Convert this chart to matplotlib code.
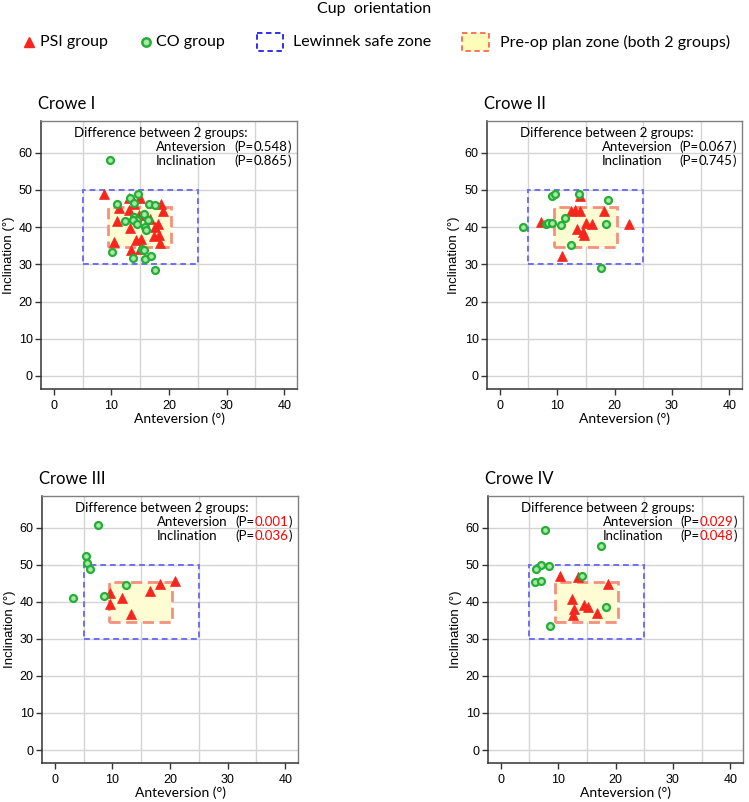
import numpy as np
import matplotlib.pyplot as plt
from matplotlib.patches import Rectangle

plt.rcParams['font.family'] = ['Lato', 'DejaVu Sans']

panel_titles = ["Crowe I", "Crowe II", "Crowe III", "Crowe IV"]

# PSI group (red triangles): anteversion / inclination
psi_ante_1 = [8.7, 13.0, 15.0, 14.0, 11.4, 13.0, 18.6, 18.9, 14.8, 11.0, 13.3,
              16.7, 18.1, 17.5, 18.3, 17.4, 18.4, 10.4, 14.3, 15.2, 13.4, 15.0]
psi_incl_1 = [48.8, 47.9, 47.7, 46.3, 45.2, 44.7, 46.1, 44.3, 43.2, 41.7, 39.8,
              42.3, 40.8, 39.9, 38.0, 37.5, 35.6, 36.0, 36.5, 36.9, 33.8, 34.0]
psi_ante_2 = [7.25, 14.0, 12.5, 13.2, 14.0, 18.2, 15.0, 16.0, 13.4, 14.5, 14.7, 22.6, 10.8]
psi_incl_2 = [41.3, 48.3, 44.2, 44.7, 44.2, 44.2, 41.2, 40.9, 39.4, 38.8, 38.0, 40.9, 32.2]
psi_ante_3 = [9.55, 9.55, 11.7, 13.3, 16.6, 18.2, 20.8]
psi_incl_3 = [42.4, 39.5, 40.9, 36.6, 42.8, 44.9, 45.7]
psi_ante_4 = [10.4, 13.5, 18.7, 12.5, 12.7, 12.6, 14.6, 15.2, 16.7]
psi_incl_4 = [46.8, 46.6, 44.7, 40.7, 37.9, 36.5, 39.2, 38.6, 36.9]

# CO group (green circles)
co_ante_1 = [14.7, 13.3, 14.0, 11.0, 16.6, 17.6, 15.7, 13.85, 14.4, 13.75, 12.3, 16.3,
             14.4, 15.9, 16.05, 10.1, 15.3, 15.6, 13.75, 15.9, 16.9, 17.5, 9.8]
co_incl_1 = [49.0, 47.7, 46.6, 46.3, 46.1, 45.9, 43.4, 42.7, 42.0, 41.9, 41.6, 41.9,
             40.8, 40.1, 39.2, 33.3, 34.0, 33.8, 31.6, 31.3, 32.2, 28.4, 58.0]
co_ante_2 = [4.1, 9.2, 9.7, 13.8, 18.9, 11.3, 8.1, 8.5, 9.1, 10.6, 18.5, 12.4, 17.6]
co_incl_2 = [39.9, 48.3, 49.0, 49.0, 47.4, 42.4, 40.9, 41.1, 41.2, 40.6, 40.7, 35.2, 29.1]
co_ante_3 = [7.5, 5.4, 5.6, 6.1, 3.2, 8.5, 12.3]
co_incl_3 = [60.7, 52.4, 50.4, 48.7, 41.1, 41.4, 44.6]
co_ante_4 = [7.7, 17.4, 7.0, 8.5, 6.1, 6.0, 7.1, 14.1, 18.4, 8.6]
co_incl_4 = [59.2, 55.0, 50.0, 49.7, 48.7, 45.4, 45.7, 46.9, 38.6, 33.4]

p_ante = ["0.548", "0.067", "0.001", "0.029"]
p_incl = ["0.865", "0.745", "0.036", "0.048"]

# zones: (ante min, ante max, incl min, incl max)
safe_zone = (5, 25, 30, 50)
plan_zone = (9.5, 20.4, 34.6, 45.3)

psi_ante = [psi_ante_1, psi_ante_2, psi_ante_3, psi_ante_4]
psi_incl = [psi_incl_1, psi_incl_2, psi_incl_3, psi_incl_4]
co_ante = [co_ante_1, co_ante_2, co_ante_3, co_ante_4]
co_incl = [co_incl_1, co_incl_2, co_incl_3, co_incl_4]

RED = '#f5261e'
GREEN_EDGE = '#26ad36'
GREEN_FACE = '#a6e8a6'
BLUE = '#7070f0'
PLAN_EDGE = '#f5907c'
PLAN_FILL = '#fdfcd2'
TICKFONT = 'Liberation Sans'

fig = plt.figure(figsize=(7.49, 8.02), dpi=100)

W, H = 749.0, 802.0
# axes boxes in pixels: left, top, right, bottom
boxes = [(41, 121, 297, 389), (487, 121, 742, 389),
         (42, 496, 298, 763), (488, 496, 743, 763)]

for k in range(4):
    l, t, r, b = boxes[k]
    ax = fig.add_axes([l / W, 1 - b / H, (r - l) / W, (b - t) / H])

    sz = safe_zone
    pz = plan_zone
    ax.add_patch(Rectangle((pz[0], pz[2]), pz[1] - pz[0], pz[3] - pz[2],
                           facecolor=PLAN_FILL, edgecolor='none', zorder=1))
    ax.add_patch(Rectangle((pz[0], pz[2]), pz[1] - pz[0], pz[3] - pz[2],
                           facecolor='none', edgecolor=PLAN_EDGE, lw=2.0,
                           linestyle=(0, (4, 2)), zorder=3))
    ax.add_patch(Rectangle((sz[0], sz[2]), sz[1] - sz[0], sz[3] - sz[2],
                           facecolor='none', edgecolor=BLUE, lw=1.4,
                           linestyle=(0, (3, 2)), zorder=3))

    ax.plot(psi_ante[k], psi_incl[k], '^', color=RED, ms=6.5, mec=RED, mew=0.5,
            linestyle='none', zorder=4)
    ax.plot(co_ante[k], co_incl[k], 'o', mfc=GREEN_FACE, mec=GREEN_EDGE, ms=5,
            mew=1.6, linestyle='none', zorder=5)

    ax.set_xlim(-2.2, 42.2)
    ax.set_ylim(-3.5, 68.5)
    ax.set_xticks([0, 10, 20, 30, 40])
    ax.set_xticks([5, 15, 25, 35], minor=True)
    ax.set_yticks([0, 10, 20, 30, 40, 50, 60])
    ax.grid(which='minor', axis='x', color='#d4d4d4', lw=1.0, zorder=0)
    ax.grid(which='major', axis='y', color='#d4d4d4', lw=1.0, zorder=0)
    ax.set_axisbelow(True)
    ax.tick_params(which='minor', length=0)
    ax.tick_params(which='major', length=4, width=1, color='#333333',
                   labelsize=9, pad=2)
    ax.tick_params(axis='x', pad=4)
    for lab in ax.get_xticklabels() + ax.get_yticklabels():
        lab.set_fontfamily(TICKFONT)
    for s in ['left', 'bottom']:
        ax.spines[s].set_color('#333333')
        ax.spines[s].set_linewidth(1.1)
    for s in ['top', 'right']:
        ax.spines[s].set_color('#808080')
        ax.spines[s].set_linewidth(1.0)

    ax.set_ylabel('Inclination (°)', fontsize=9.5, family=TICKFONT, labelpad=3)
    ax.set_xlabel('Anteversion (°)', fontsize=10)
    ax.xaxis.set_label_coords(0.54, -0.11)
    ax.xaxis.label.set_va('center')

    ax.text(-0.01, 1.065, panel_titles[k], transform=ax.transAxes,
            fontsize=12, ha='left', va='center')

    ax.text(0.13, 0.955, 'Difference between 2 groups:', transform=ax.transAxes,
            fontsize=9.5, ha='left', va='center')
    rows = [('Anteversion', p_ante[k], 0.903), ('Inclination', p_incl[k], 0.850)]
    for name, pv, yy in rows:
        ax.text(0.45, yy, name, transform=ax.transAxes, fontsize=9.5,
                ha='left', va='center')
        t0 = ax.text(0.756, yy, '(P=', transform=ax.transAxes, fontsize=9.5,
                     ha='left', va='center')
        pcol = 'red' if float(pv) < 0.05 else 'black'
        t1 = ax.annotate(pv, xy=(1, 0), xycoords=t0, fontsize=9.5,
                         ha='left', va='bottom', color=pcol)
        ax.annotate(')', xy=(1, 0), xycoords=t1, fontsize=9.5,
                    ha='left', va='bottom')

# legend band at the top, drawn in pixel units
lax = fig.add_axes([0, 1 - 60 / H, 1, 60 / H])
lax.set_xlim(0, W)
lax.set_ylim(60, 0)
lax.axis('off')
lax.text(W / 2, 9, 'Cup  orientation', fontsize=11.5, ha='center', va='center')
ly = 42
lax.plot([29], [ly], '^', color=RED, ms=7.5, mec=RED)
lax.text(40, ly, 'PSI group', fontsize=11.5, ha='left', va='center')
lax.plot([146], [ly], 'o', mfc=GREEN_FACE, mec=GREEN_EDGE, ms=6, mew=1.8)
lax.text(156, ly, 'CO group', fontsize=11.5, ha='left', va='center')
lax.add_patch(Rectangle((257, 33), 26, 18, facecolor='white', edgecolor='#2020f0',
                        lw=1.3, linestyle=(0, (3, 2))))
lax.text(293, ly, 'Lewinnek safe zone', fontsize=11.5, ha='left', va='center')
lax.add_patch(Rectangle((462, 33), 27, 18, facecolor='#fdfcb8', edgecolor='#f56a50',
                        lw=1.3, linestyle=(0, (3, 2))))
lax.text(500, ly, 'Pre-op plan zone (both 2 groups)', fontsize=11.5,
         ha='left', va='center')

fig.savefig('out.png', dpi=100)
